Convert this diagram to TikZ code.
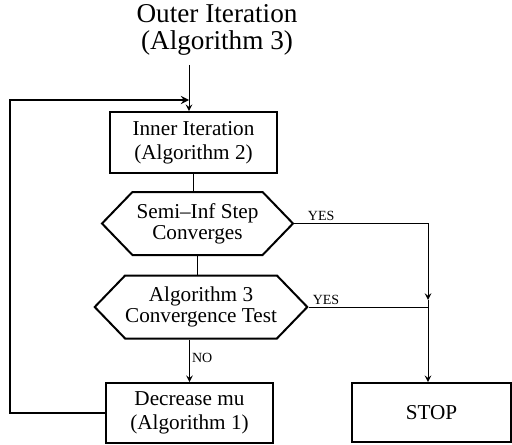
\documentclass[tikz,border=0pt]{standalone}
\usepackage{fontspec}
\setmainfont{Liberation Serif}
\usepackage{tikz}
\usetikzlibrary{shapes.symbols,positioning}
\tikzset{box/.style={rectangle,draw,line width=0.8pt,inner sep=0pt,minimum width=83.5pt,minimum height=30.5pt,align=center,font=\fontsize{10.6}{12}\selectfont},
  hexa/.style={signal,signal to=west and east,signal pointer angle=92,draw,line width=1pt,inner sep=0pt,minimum width=95.5pt,minimum height=31.5pt,align=center,font=\fontsize{10.6}{10.5}\selectfont},
  lbl/.style={font=\fontsize{7}{7}\selectfont,inner sep=1pt}}

\begin{document}
\begin{tikzpicture}[>=stealth,x=0.5pt,y=-0.5pt,line width=0.5pt]
        \useasboundingbox (0,0) rectangle (512,444);
        \node[align=center,font=\fontsize{13.6}{13.6}\selectfont] (title) at (217,30) {Outer Iteration\\(Algorithm 3)};
        \node[box] (inner) at (193.5,142.5) {Inner Iteration\\(Algorithm 2)};
        \node[hexa] (h1) at (197.5,223.5) {Semi--Inf Step\\Converges};
        \node[hexa] (h2) at (201,307) {Algorithm 3\\Convergence Test};
        \node[box,minimum height=30pt] (dec) at (189.5,413) {Decrease mu\\(Algorithm 1)};
        \node[box,minimum width=79.5pt,minimum height=29.5pt] (stop) at (431.5,412.5) {STOP};

        \coordinate (start) at (189,65);
        \coordinate (join) at (189,100);
        \coordinate (corner) at (10,100);
        \coordinate (tip) at (428,300);
        \coordinate (merge) at (428,307);

        \draw [->] (start) -- (start |- inner.north);
        \draw [->,line width=0.8pt] (dec.west) -| (corner) -- (join);
        \draw (inner.south) -- (inner.south |- h1.north);
        \draw [line width=0.7pt] (h1.south) -- (h1.south |- h2.north);
        \draw [->] (h2.south -| dec.north) -- node[lbl,right,pos=0.44]{NO} (dec.north);
        \draw [->] (h1.east) -| node[lbl,above,pos=0.1]{YES} (tip);
        \draw (h2.east) -- node[lbl,above,pos=0.145]{YES} (merge);
        \draw [->] (tip) -- (tip |- stop.north);
    \end{tikzpicture}
\end{document}
